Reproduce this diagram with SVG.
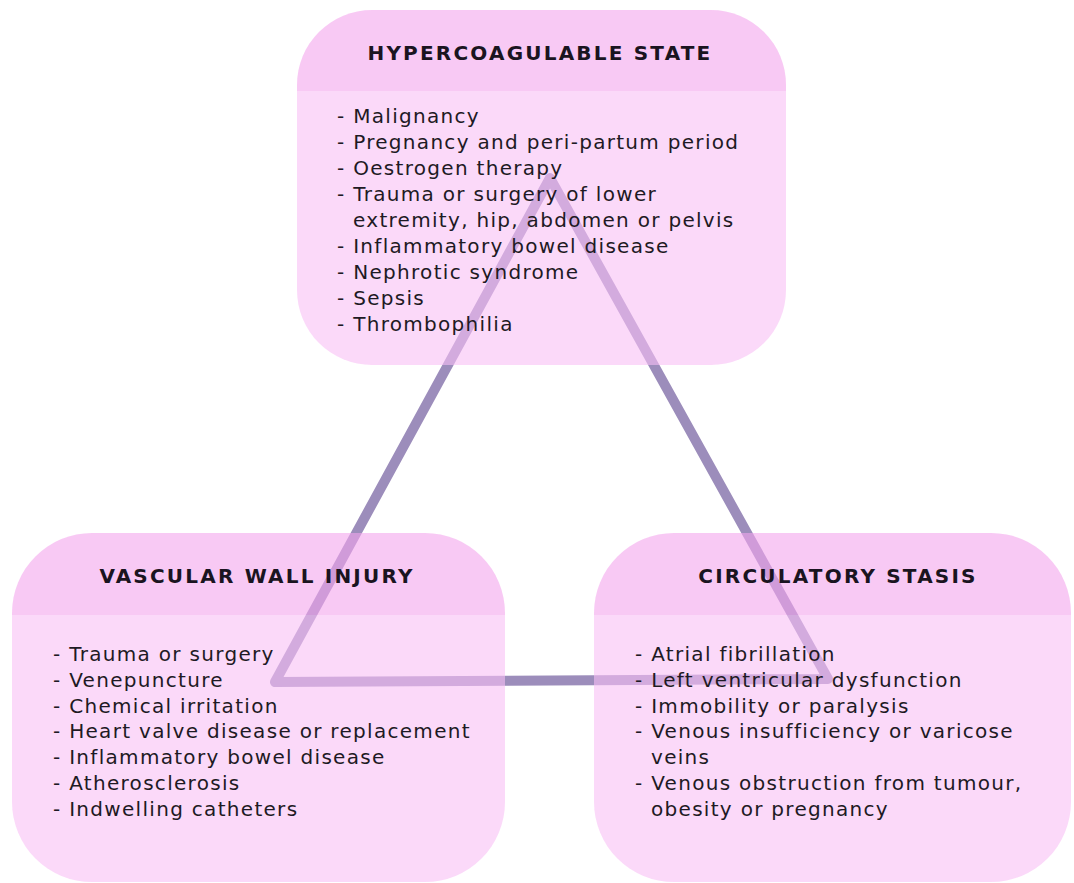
<svg xmlns="http://www.w3.org/2000/svg" width="1074" height="883" viewBox="0 0 1074 883">
<style>
.item{font-family:"DejaVu Sans",Verdana,sans-serif;font-size:20px;letter-spacing:1.3px;fill:#1e1a24}
.head{font-family:"DejaVu Sans",Verdana,sans-serif;font-size:20px;font-weight:bold;letter-spacing:2.2px;fill:#1a1420;text-anchor:middle}
.body{fill:#f8c0f5}
.band{fill:#f3a5ed}
.tri{fill:none;stroke:#9c8dbb;stroke-width:10;stroke-linejoin:round;stroke-linecap:round}
</style>
<defs>
<clipPath id="cTop"><rect x="297" y="10" width="489" height="355" rx="75" ry="75"/></clipPath>
<clipPath id="cLeft"><rect x="12" y="533" width="493" height="349" rx="80" ry="80"/></clipPath>
<clipPath id="cRight"><rect x="594" y="533" width="477" height="349" rx="80" ry="80"/></clipPath>
</defs>
<rect width="1074" height="883" fill="#ffffff"/>
<g id="connectors">
<path class="tri" d="M550,178 L275,682 L828,679 Z"/>
</g>
<g id="node-hypercoagulable">
<g clip-path="url(#cTop)" opacity="0.6">
<rect class="body" x="297" y="10" width="489" height="355"/>
<rect class="band" x="297" y="10" width="489" height="81"/>
</g>
<text class="head" x="540" y="60">HYPERCOAGULABLE STATE</text>
<text class="item" x="337" y="123">- Malignancy</text>
<text class="item" x="337" y="149">- Pregnancy and peri-partum period</text>
<text class="item" x="337" y="175">- Oestrogen therapy</text>
<text class="item" x="337" y="201">- Trauma or surgery of lower</text>
<text class="item" x="353" y="227">extremity, hip, abdomen or pelvis</text>
<text class="item" x="337" y="253">- Inflammatory bowel disease</text>
<text class="item" x="337" y="279">- Nephrotic syndrome</text>
<text class="item" x="337" y="305">- Sepsis</text>
<text class="item" x="337" y="331">- Thrombophilia</text>
</g>
<g id="node-vascular">
<g clip-path="url(#cLeft)" opacity="0.6">
<rect class="body" x="12" y="533" width="493" height="349"/>
<rect class="band" x="12" y="533" width="493" height="82"/>
</g>
<text class="head" x="257" y="583">VASCULAR WALL INJURY</text>
<text class="item" x="53" y="661">- Trauma or surgery</text>
<text class="item" x="53" y="687">- Venepuncture</text>
<text class="item" x="53" y="713">- Chemical irritation</text>
<text class="item" x="53" y="738">- Heart valve disease or replacement</text>
<text class="item" x="53" y="764">- Inflammatory bowel disease</text>
<text class="item" x="53" y="790">- Atherosclerosis</text>
<text class="item" x="53" y="816">- Indwelling catheters</text>
</g>
<g id="node-stasis">
<g clip-path="url(#cRight)" opacity="0.6">
<rect class="body" x="594" y="533" width="477" height="349"/>
<rect class="band" x="594" y="533" width="477" height="82"/>
</g>
<text class="head" x="838" y="583">CIRCULATORY STASIS</text>
<text class="item" x="635" y="661">- Atrial fibrillation</text>
<text class="item" x="635" y="687">- Left ventricular dysfunction</text>
<text class="item" x="635" y="713">- Immobility or paralysis</text>
<text class="item" x="635" y="738">- Venous insufficiency or varicose</text>
<text class="item" x="651" y="764">veins</text>
<text class="item" x="635" y="790">- Venous obstruction from tumour,</text>
<text class="item" x="651" y="816">obesity or pregnancy</text>
</g>
</svg>
